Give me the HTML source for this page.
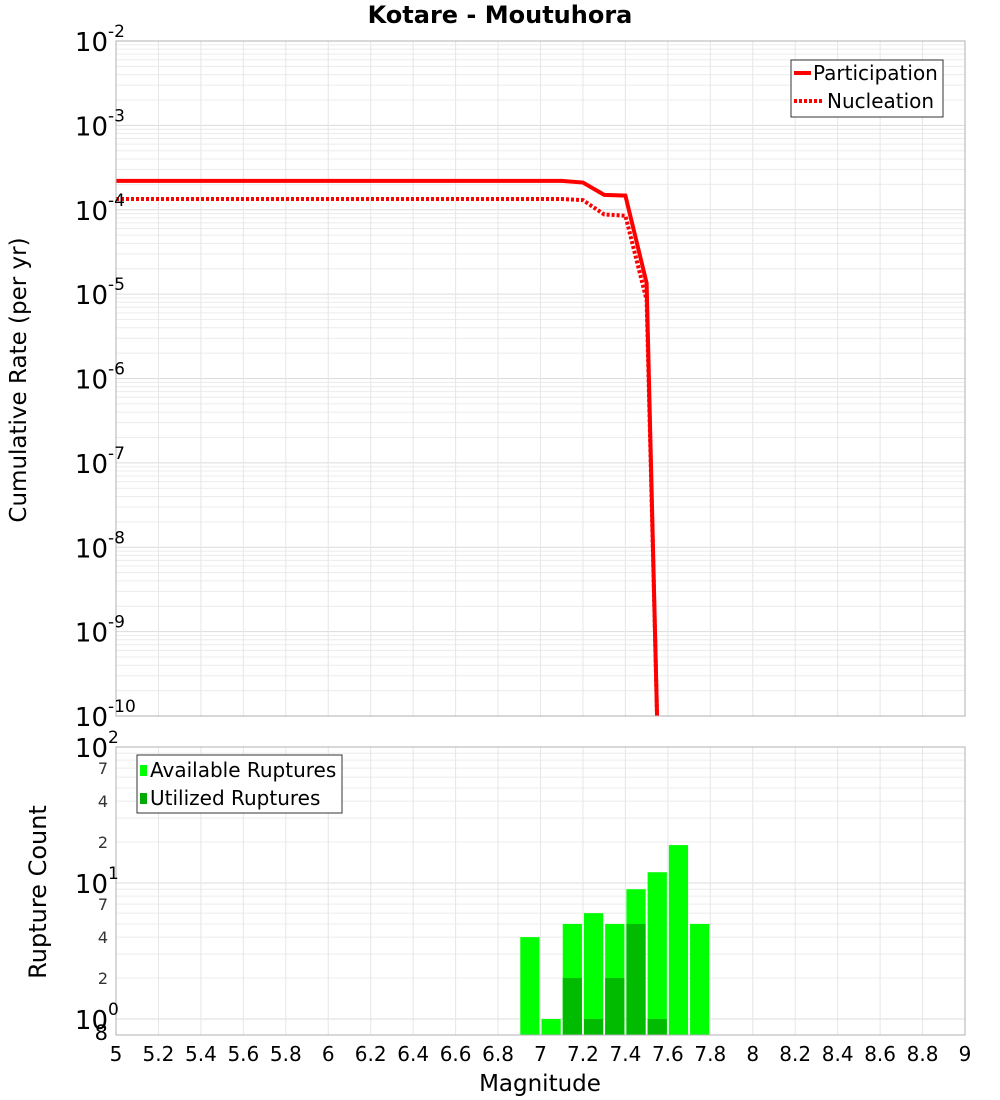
<!DOCTYPE html>
<html><head><meta charset="utf-8"><style>
html,body{margin:0;padding:0;background:#fff;}
svg{display:block;font-family:"DejaVu Sans","Liberation Sans",sans-serif;}
</style></head><body>
<svg id="c" width="1000" height="1100" xmlns="http://www.w3.org/2000/svg"></svg>
<script>
const magX = [5,5.5,6,6.5,7,7.1,7.2,7.3,7.4,7.5,7.55];
const participation = [2.2e-4,2.2e-4,2.2e-4,2.2e-4,2.2e-4,2.2e-4,2.1e-4,1.5e-4,1.47e-4,1.35e-5,8e-11];
const nucleation = [1.34e-4,1.34e-4,1.34e-4,1.34e-4,1.34e-4,1.34e-4,1.3e-4,8.8e-5,8.5e-5,8.5e-6,8e-11];
const binCenters = [6.95,7.05,7.15,7.25,7.35,7.45,7.55,7.65,7.75];
const available = [4,1,5,6,5,9,12,19,5];
const utilized = [0,0,2,1,2,5,1,0,0];
const xTicks = [5,5.2,5.4,5.6,5.8,6,6.2,6.4,6.6,6.8,7,7.2,7.4,7.6,7.8,8,8.2,8.4,8.6,8.8,9];
const topExps = [-2,-3,-4,-5,-6,-7,-8,-9,-10];
const botMinor = [2,4,7];

const NS="http://www.w3.org/2000/svg", svg=document.getElementById('c');
function mk(t,a,p){const e=document.createElementNS(NS,t);for(const k in a)e.setAttribute(k,a[k]);(p||svg).appendChild(e);return e;}
const L=116,R=965;
const X=v=>L+(v-5)/4*(R-L);
const T0=41,T1=716;
const YT=v=>T0+(-2-Math.log10(v))/8*(T1-T0);
const B0=747,B1=1035,BD=136,Bten=883;
const YB=v=>Bten-(Math.log10(v)-1)*BD;

const gTop=mk('g',{});
mk('rect',{x:L,y:T0,width:R-L,height:T1-T0,fill:'#fff'},gTop);
for(let e=-10;e<-2;e++)for(let m=2;m<=9;m++){const y=YT(m*Math.pow(10,e));mk('line',{x1:L,x2:R,y1:y,y2:y,stroke:'#ececec','stroke-width':1},gTop);}
topExps.forEach(e=>{const y=YT(Math.pow(10,e));mk('line',{x1:L,x2:R,y1:y,y2:y,stroke:'#dcdcdc'},gTop);});
xTicks.forEach(v=>mk('line',{x1:X(v),x2:X(v),y1:T0,y2:T1,stroke:'#e6e6e6'},gTop));
const cp=mk('clipPath',{id:'cpTop'});mk('rect',{x:L,y:T0,width:R-L,height:T1-T0},cp);
const lp=mk('polyline',{points:magX.map((m,i)=>X(m)+','+YT(participation[i])).join(' '),fill:'none',stroke:'#ff0000','stroke-width':4,'clip-path':'url(#cpTop)'},gTop);

const ln=mk('polyline',{points:magX.map((m,i)=>X(m)+','+YT(nucleation[i])).join(' '),fill:'none',stroke:'#ff0000','stroke-width':4,'stroke-dasharray':'3,2','clip-path':'url(#cpTop)'},gTop);

mk('rect',{x:L,y:T0,width:R-L,height:T1-T0,fill:'none',stroke:'#b0b0b0'},gTop);
topExps.forEach(e=>{const y=YT(Math.pow(10,e));const t=mk('text',{x:108,y:y+10,'text-anchor':'end','font-size':26},gTop);t.textContent='10';
 const s=mk('text',{x:108,y:y-4,'font-size':17},gTop);s.textContent=e;});
const lg=mk('g',{});
mk('rect',{x:791,y:60,width:152,height:57,fill:'#fff',stroke:'#333'},lg);
mk('line',{x1:794,x2:811,y1:73,y2:73,stroke:'#f00','stroke-width':4},lg);
mk('line',{x1:794,x2:822,y1:101,y2:101,stroke:'#f00','stroke-width':4,'stroke-dasharray':'3,2'},lg);
let t=mk('text',{x:813,y:80,'font-size':20},lg);t.textContent='Participation';
t=mk('text',{x:827,y:108,'font-size':20},lg);t.textContent='Nucleation';
t=mk('text',{x:500,y:23,'text-anchor':'middle','font-size':24,'font-weight':'bold'});t.textContent='Kotare - Moutuhora';
t=mk('text',{x:0,y:0,'text-anchor':'middle','font-size':23,transform:'translate(26,380) rotate(-90)'});t.textContent='Cumulative Rate (per yr)';

const gB=mk('g',{});
mk('rect',{x:L,y:B0,width:R-L,height:B1-B0,fill:'#fff'},gB);
[0,1].forEach(e=>{for(let m=2;m<=9;m++){const y=YB(m*Math.pow(10,e));if(y>B0&&y<B1)mk('line',{x1:L,x2:R,y1:y,y2:y,stroke:'#ececec'},gB);}});
[1,10].forEach(v=>mk('line',{x1:L,x2:R,y1:YB(v),y2:YB(v),stroke:'#dcdcdc'},gB));
xTicks.forEach(v=>mk('line',{x1:X(v),x2:X(v),y1:B0,y2:B1,stroke:'#e6e6e6'},gB));
const bw=X(5.1)-X(5);
binCenters.forEach((c,i)=>{const y=YB(available[i]);const r=mk('rect',{x:X(c)-bw/2+1,y:y,width:bw-2,height:B1-y,fill:'#00ff00'},gB);
 
 if(utilized[i]>0){const yu=YB(utilized[i]);const u=mk('rect',{x:X(c)-bw/2+1,y:yu,width:bw-2,height:B1-yu,fill:'#00bb00'},gB);
 }});
mk('rect',{x:L,y:B0,width:R-L,height:B1-B0,fill:'none',stroke:'#b0b0b0'},gB);
[[2,100],[1,10],[0,1]].forEach(([e,v])=>{const y=YB(v);t=mk('text',{x:108,y:y+10,'text-anchor':'end','font-size':26},gB);t.textContent='10';
 t=mk('text',{x:108,y:y-4,'font-size':17},gB);t.textContent=e;});
[1,10].forEach(d=>botMinor.forEach(m=>{const y=YB(m*d);t=mk('text',{x:108,y:y+6,'text-anchor':'end','font-size':16,fill:'#333'},gB);t.textContent=m;}));
t=mk('text',{x:108,y:YB(0.8)+8,'text-anchor':'end','font-size':21},gB);t.textContent='8';
const lg2=mk('g',{});
mk('rect',{x:137,y:755,width:205,height:58,fill:'#fff',stroke:'#333'},lg2);
mk('rect',{x:140,y:765,width:7,height:11,fill:'#00ff00'},lg2);
mk('rect',{x:140,y:793,width:7,height:11,fill:'#00aa00'},lg2);
t=mk('text',{x:150,y:777,'font-size':20},lg2);t.textContent='Available Ruptures';
t=mk('text',{x:150,y:805,'font-size':20},lg2);t.textContent='Utilized Ruptures';
t=mk('text',{x:0,y:0,'text-anchor':'middle','font-size':24,transform:'translate(46,892) rotate(-90)'});t.textContent='Rupture Count';
xTicks.forEach(v=>{t=mk('text',{x:X(v),y:1061,'text-anchor':'middle','font-size':20});t.textContent=v;});
t=mk('text',{x:540,y:1091,'text-anchor':'middle','font-size':23});t.textContent='Magnitude';
</script>
</body></html>
